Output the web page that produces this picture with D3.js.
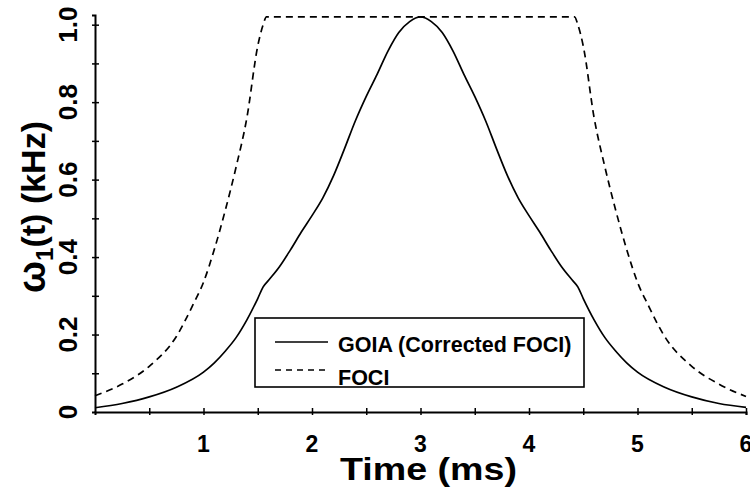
<html>
<head>
<script src="https://cdnjs.cloudflare.com/ajax/libs/d3/7.8.5/d3.min.js"></script>
<style>
  body { margin: 0; background: #fff; }
  text { font-family: "Liberation Sans", Arial, Helvetica, sans-serif; font-weight: bold; fill: #000; }
</style>
</head>
<body>
<svg id="plot" width="750" height="487"></svg>
<script>

	// GOIA (corrected FOCI) amplitude
	var goiaTime = [0, 0.25, 0.5, 0.75, 1.0, 1.1, 1.2, 1.3, 1.4, 1.5, 1.55, 1.6, 1.7, 1.8, 1.9, 2.0, 2.1, 2.2, 2.3, 2.4, 2.5, 2.6, 2.7, 2.8, 2.9, 3.0,
		3.1, 3.2, 3.3, 3.4, 3.5, 3.6, 3.7, 3.8, 3.9, 4.0, 4.1, 4.2, 4.3, 4.4, 4.45, 4.5, 4.6, 4.7, 4.8, 4.9, 5.0, 5.25, 5.5, 5.75, 6.0]
	var goiaValue = [0.011, 0.022, 0.039, 0.064, 0.103, 0.127, 0.157, 0.192, 0.238, 0.293, 0.323, 0.340, 0.375, 0.418, 0.464, 0.507, 0.553, 0.611, 0.680, 0.752, 0.815, 0.872, 0.932, 0.980, 1.008, 1.020,
		1.008, 0.980, 0.932, 0.872, 0.815, 0.752, 0.680, 0.611, 0.553, 0.507, 0.464, 0.418, 0.375, 0.340, 0.323, 0.293, 0.238, 0.192, 0.157, 0.127, 0.103, 0.064, 0.039, 0.022, 0.012]

	// FOCI amplitude
	var fociTime = [0, 0.25, 0.5, 0.75, 0.9, 1.0, 1.1, 1.2, 1.3, 1.4, 1.5, 1.55, 1.58, 4.42, 4.45, 4.5, 4.6, 4.7, 4.8, 4.9, 5.0, 5.1, 5.25, 5.5, 5.75, 6.0]
	var fociValue = [0.042, 0.072, 0.118, 0.195, 0.275, 0.335, 0.42, 0.52, 0.632, 0.76, 0.945, 1.0, 1.02, 1.02, 1.0, 0.945, 0.76, 0.632, 0.52, 0.42, 0.335, 0.275, 0.195, 0.118, 0.072, 0.040]

	var xTicks = [0.5, 1, 1.5, 2, 2.5, 3, 3.5, 4, 4.5, 5, 5.5, 6]
	var xLabels = [1, 2, 3, 4, 5, 6]
	var yTicks = [0.1, 0.2, 0.3, 0.4, 0.5, 0.6, 0.7, 0.8, 0.9, 1.0]
	var yLabels = [0, 0.2, 0.4, 0.6, 0.8, 1.0]

	var seriesNames = ["GOIA (Corrected FOCI)", "FOCI"]

	var svg = d3.select("#plot")

	var x = d3.scaleLinear().domain([0, 6]).range([95, 746])
	var y = d3.scaleLinear().domain([0, 1.025]).range([412, 15])

	// axes
	svg.append("g")
	   .attr("transform", "translate(0," + y(0) + ")")
	   .call(d3.axisBottom(x).tickValues(xTicks).tickSize(3).tickFormat(""))
	   .call(g => g.select(".domain").attr("stroke-width", 2))
	   .call(g => g.selectAll(".tick line").attr("y1", -4).attr("stroke-width", 1.5))

	svg.append("g")
	   .attr("transform", "translate(" + x(0) + ",0)")
	   .call(d3.axisLeft(y).tickValues(yTicks).tickSize(3).tickFormat(""))
	   .call(g => g.select(".domain").attr("stroke-width", 2))
	   .call(g => g.selectAll(".tick line").attr("x1", 4).attr("stroke-width", 1.5))

	// tick labels
	svg.selectAll(".xlab")
	   .data(xLabels)
	   .enter().append("text")
	   .attr("x", d => x(d))
	   .attr("y", 452)
	   .attr("text-anchor", "middle")
	   .style("font-size", "23px")
	   .text(d => d)

	svg.selectAll(".ylab")
	   .data(yLabels)
	   .enter().append("text")
	   .attr("transform", d => "translate(77," + y(d) + ") rotate(-90)")
	   .attr("text-anchor", "middle")
	   .style("font-size", "26px")
	   .text(d => d == 0 ? "0" : d3.format(".1f")(d))

	// axis titles
	svg.append("text")
	   .attr("x", 340)
	   .attr("y", 480)
	   .attr("textLength", 177)
	   .attr("lengthAdjust", "spacingAndGlyphs")
	   .style("font-size", "32px")
	   .text("Time (ms)")

	var yt = svg.append("text")
	   .attr("transform", "translate(45,207) rotate(-90)")
	   .attr("text-anchor", "middle")
	   .style("font-size", "34px")
	yt.append("tspan").style("font-size", "38px").text("\u03c9")
	yt.append("tspan").attr("dy", 8).style("font-size", "24px").text("1")
	yt.append("tspan").attr("dy", -8).text("(t) (kHz)")

	// curves
	var line = d3.line()
		.x(d => x(d[0]))
		.y(d => y(d[1]))
		.curve(d3.curveMonotoneX)

	svg.append("path")
	   .datum(fociTime.map((t, i) => [t, fociValue[i]]))
	   .attr("d", line)
	   .attr("fill", "none")
	   .attr("stroke", "#000")
	   .attr("stroke-width", 1.7)
	   .attr("stroke-dasharray", "7,5")

	svg.append("path")
	   .datum(goiaTime.map((t, i) => [t, goiaValue[i]]))
	   .attr("d", line)
	   .attr("fill", "none")
	   .attr("stroke", "#000")
	   .attr("stroke-width", 1.7)

	// legend
	var legend = svg.append("g")
	legend.append("rect")
	   .attr("x", 255).attr("y", 318)
	   .attr("width", 329).attr("height", 69)
	   .attr("fill", "#fff")
	   .attr("stroke", "#000")
	   .attr("stroke-width", 1.6)

	var legendY = [342, 370]
	var textY = [352, 385]
	seriesNames.forEach((name, i) => {
		legend.append("line")
		   .attr("x1", 275).attr("x2", 328)
		   .attr("y1", legendY[i]).attr("y2", legendY[i])
		   .attr("stroke", "#000")
		   .attr("stroke-width", 1.5)
		   .attr("stroke-dasharray", i == 1 ? "6,5" : null)
		legend.append("text")
		   .attr("x", 338)
		   .attr("y", textY[i])
		   .style("font-size", "21.5px")
		   .text(name)
	})

</script>
</body>
</html>
